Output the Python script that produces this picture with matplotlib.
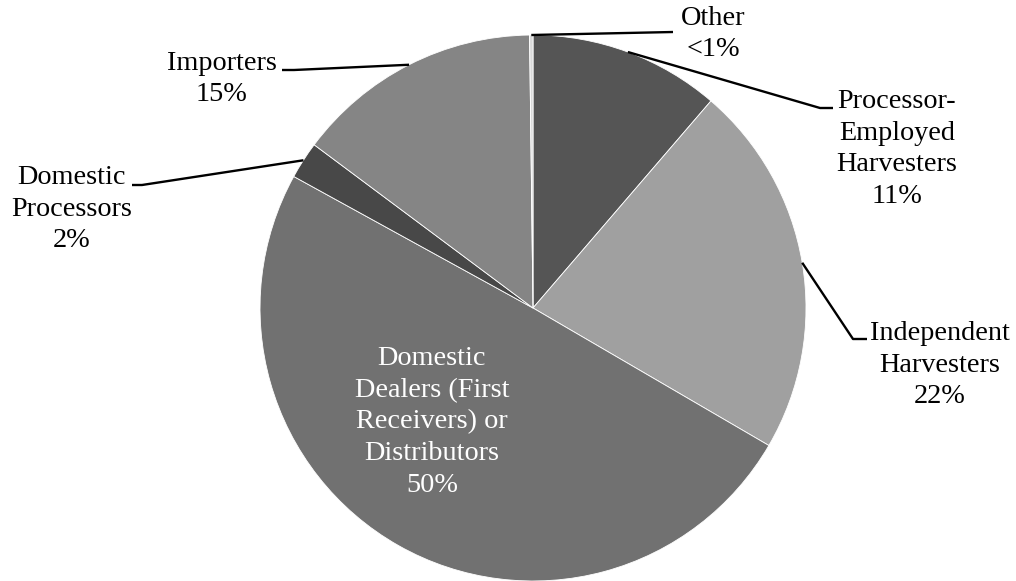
import numpy as np
import matplotlib
matplotlib.use("Agg")
import matplotlib.pyplot as plt

# Share of first sales by type of seller (percent)
categories = [
    "Processor-\nEmployed\nHarvesters",
    "Independent\nHarvesters",
    "Domestic\nDealers (First\nReceivers) or\nDistributors",
    "Domestic\nProcessors",
    "Importers",
    "Other",
]
shares = [11.3, 22.1, 49.6, 2.2, 14.6, 0.2]
colors = ["#555555", "#a0a0a0", "#717171", "#484848", "#858585", "#d9d9d9"]

W, H = 1016, 581
fig = plt.figure(figsize=(W / 100, H / 100), dpi=100)
ax = fig.add_axes([0, 0, 1, 1])
ax.set_xlim(0, W)
ax.set_ylim(0, H)
ax.set_aspect("equal")
ax.axis("off")

cx, cy, R = 533, H - 308, 273
wedges, _ = ax.pie(shares, colors=colors, startangle=90, counterclock=False,
                   center=(cx, cy), radius=R,
                   wedgeprops=dict(edgecolor="white", linewidth=0.6))
ax.set_xlim(0, W)
ax.set_ylim(0, H)

font = dict(family="Liberation Serif", fontsize=20.3, linespacing=1.36)


def label_text(name, v):
    pct = "<1%" if v < 1 else f"{round(v)}%"
    return f"{name}\n{pct}"


def edge_point(w):
    a = np.deg2rad((w.theta1 + w.theta2) / 2)
    return cx + R * np.cos(a), cy + R * np.sin(a)


# label centre and leader path (elbow, end) in pixel coords measured from top
outside = {
    0: dict(text=(897, 149), path=[(820, 108), (833, 108)]),
    1: dict(text=(940, 365), path=[(853, 339), (867, 339)]),
    3: dict(text=(72, 209), path=[(142, 185), (132, 185)]),
    4: dict(text=(222, 79), path=[(294, 70), (282, 70)]),
    5: dict(text=(713, 34), path=[(673, 32)]),
}

for i, spec in outside.items():
    x0, y0 = edge_point(wedges[i])
    xs = [x0] + [p[0] for p in spec["path"]]
    ys = [y0] + [H - p[1] for p in spec["path"]]
    ax.plot(xs, ys, color="black", lw=1.7, solid_capstyle="butt")
    tx, ty = spec["text"]
    ax.text(tx, H - ty, label_text(categories[i], shares[i]), ha="center",
            va="center", multialignment="center", color="black", **font)

# largest slice carries its label inside
ax.text(432, H - 422, label_text(categories[2], shares[2]), ha="center",
        va="center", multialignment="center", color="white", **font)

fig.savefig("out.png", dpi=100)
